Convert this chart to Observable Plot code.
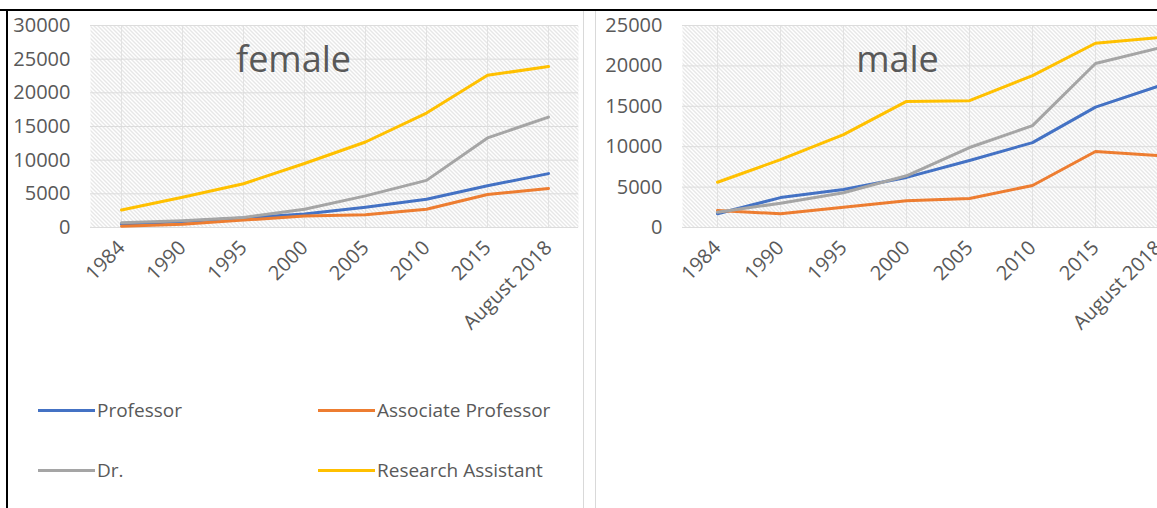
<!DOCTYPE html>
<html>
<head>
<meta charset="utf-8">
<script src="https://cdn.jsdelivr.net/npm/d3@7"></script>
<script src="https://cdn.jsdelivr.net/npm/@observablehq/plot@0.6"></script>
<style>
  html, body { margin: 0; padding: 0; background: #fff; }
  #page { position: relative; width: 1157px; height: 508px; overflow: hidden; background: #fff; font-family: "Open Sans", sans-serif; }
  .panel { position: absolute; top: 0; }
  .panel svg { max-width: none !important; }
  .border-top { position: absolute; left: 0; top: 9px; width: 1157px; height: 2px; background: #000; }
  .border-left { position: absolute; left: 6px; top: 9px; width: 2px; height: 499px; background: #000; }
  .sep { position: absolute; top: 11px; width: 1px; height: 497px; background: #d9d9d9; }
  .legend { position: absolute; left: 0; top: 0; font-size: 19px; color: #595959; }
  .item { position: absolute; display: flex; align-items: center; white-space: nowrap; }
  .swatch { width: 57px; height: 3px; margin-right: 2px; }
</style>
</head>
<body>
<div id="page">
  <div class="panel" id="female" style="left:0px;width:583px"></div>
  <div class="panel" id="male" style="left:595px;width:600px"></div>
  <div class="legend" id="legend"></div>
  <div class="sep" style="left:583px"></div>
  <div class="sep" style="left:595px"></div>
  <div class="border-top"></div>
  <div class="border-left"></div>
</div>
<script>
// Academic staff counts by title, 1984 – August 2018
const categories = ["1984", "1990", "1995", "2000", "2005", "2010", "2015", "August 2018"];
const series = ["Professor", "Associate Professor", "Dr.", "Research Assistant"];
const colors = ["#4472C4", "#ED7D31", "#A5A5A5", "#FFC000"];

// female
const professorF = [500, 900, 1400, 2000, 3000, 4200, 6200, 8000];
const associateF = [200, 500, 1100, 1700, 1900, 2700, 4900, 5800];
const drF = [700, 1000, 1500, 2700, 4700, 7000, 13300, 16400];
const researchF = [2600, 4500, 6500, 9500, 12700, 17000, 22600, 23900];

// male
const professorM = [1700, 3700, 4700, 6200, 8300, 10500, 14900, 17500];
const associateM = [2100, 1700, 2500, 3300, 3600, 5200, 9400, 8900];
const drM = [1900, 3000, 4300, 6400, 9900, 12600, 20300, 22200];
const researchM = [5600, 8400, 11500, 15600, 15700, 18800, 22800, 23500];

const yTicksF = [0, 5000, 10000, 15000, 20000, 25000, 30000];
const yTicksM = [0, 5000, 10000, 15000, 20000, 25000];

function toRows(lists) {
  const rows = [];
  lists.forEach((vals, i) => vals.forEach((v, j) => rows.push({series: series[i], category: categories[j], value: v})));
  return rows;
}

function addHatch(svg, id) {
  const defs = d3.select(svg).insert("defs", ":first-child");
  const p = defs.append("pattern")
    .attr("id", id).attr("patternUnits", "userSpaceOnUse")
    .attr("width", 4).attr("height", 4);
  p.append("rect").attr("width", 4).attr("height", 4).attr("fill", "#ffffff");
  p.append("path").attr("d", "M-1,-1L5,5M-1,3L1,5M3,-1L5,1")
    .attr("stroke", "#cfcfcf").attr("stroke-width", 1);
}

function panel({title, rows, yMax, yTicks, width, marginLeft, marginRight, hatchId, titleDx}) {
  const svg = Plot.plot({
    width, height: 360,
    marginLeft, marginRight, marginTop: 25, marginBottom: 133,
    x: {type: "point", domain: categories, padding: 0.5, label: null},
    y: {domain: [0, yMax], label: null},
    color: {domain: series, range: colors},
    style: {fontFamily: "'Open Sans', sans-serif", fontSize: "20px", color: "#595959", background: "transparent", overflow: "visible"},
    marks: [
      Plot.frame({fill: `url(#${hatchId})`, stroke: "none"}),
      Plot.gridX(categories, {stroke: "#e2e2e2", strokeOpacity: 1}),
      Plot.gridY(yTicks, {stroke: "#dcdcdc", strokeOpacity: 1}),
      Plot.axisY(yTicks, {tickSize: 0, tickPadding: 20, tickFormat: d3.format("d"), fill: "#595959", fontSize: 20, label: null}),
      Plot.axisX({tickSize: 0, tickRotate: -45, tickPadding: 17, fill: "#595959", fontSize: 20, label: null}),
      Plot.lineY(rows, {x: "category", y: "value", z: "series", stroke: "series", strokeWidth: 3, strokeLinejoin: "round", strokeLinecap: "round"}),
      Plot.text([title], {frameAnchor: "top", text: d => d, dx: titleDx, dy: 35, fontSize: 36, fill: "#595959", lineAnchor: "middle"})
    ]
  });
  svg.style.maxWidth = "none";
  addHatch(svg, hatchId);
  return svg;
}

document.getElementById("female").appendChild(panel({
  title: "female",
  rows: toRows([professorF, associateF, drF, researchF]),
  yMax: 30000, yTicks: yTicksF,
  width: 583, marginLeft: 90, marginRight: 5,
  hatchId: "hatch-female", titleDx: -41
}));

document.getElementById("male").appendChild(panel({
  title: "male",
  rows: toRows([professorM, associateM, drM, researchM]),
  yMax: 25000, yTicks: yTicksM,
  width: 600, marginLeft: 87, marginRight: 3,
  hatchId: "hatch-male", titleDx: -40
}));

// legend below the female panel
const legendPos = [[38, 410], [318, 410], [38, 470], [318, 470]];
const legend = document.getElementById("legend");
series.forEach((s, i) => {
  const item = document.createElement("div");
  item.className = "item";
  item.style.left = legendPos[i][0] + "px";
  item.style.top = (legendPos[i][1] - 14) + "px";
  item.style.height = "28px";
  const sw = document.createElement("span");
  sw.className = "swatch";
  sw.style.background = colors[i];
  const label = document.createElement("span");
  label.textContent = s;
  item.appendChild(sw);
  item.appendChild(label);
  legend.appendChild(item);
});
</script>
</body>
</html>
